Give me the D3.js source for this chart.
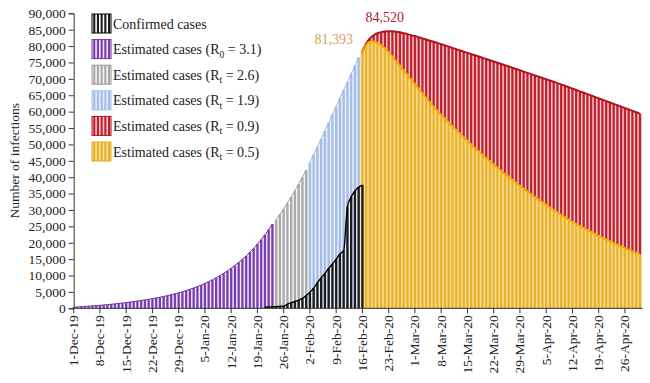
<!DOCTYPE html>
<html><head><meta charset="utf-8">
<script src="https://cdn.jsdelivr.net/npm/d3@7"></script>
<style>
body{margin:0;background:#fff}
svg{display:block}
text{font-family:"Liberation Serif","Times New Roman",serif;fill:#222}
</style>
</head><body>
<svg id="c" width="650" height="383"></svg>
<script>
// ---- data (day index 0 = 1-Dec-2019, 152 days to 30-Apr-2020) ----
const dayCount = 152;
const tickLabels = ["1-Dec-19","8-Dec-19","15-Dec-19","22-Dec-19","29-Dec-19","5-Jan-20","12-Jan-20","19-Jan-20","26-Jan-20","2-Feb-20","9-Feb-20","16-Feb-20","23-Feb-20","1-Mar-20","8-Mar-20","15-Mar-20","22-Mar-20","29-Mar-20","5-Apr-20","12-Apr-20","19-Apr-20","26-Apr-20"];
const yTicks = [0,5000,10000,15000,20000,25000,30000,35000,40000,45000,50000,55000,60000,65000,70000,75000,80000,85000,90000];

// Estimated cases R0 = 3.1, starting day 0
const startR31 = 0;
const valuesR31 = [300,400,480,560,650,740,830,920,1020,1120,1230,1350,1480,1610,1750,1900,2050,2210,2380,2560,2750,2950,3160,3380,3620,3870,4140,4430,4740,5070,5420,5800,6210,6640,7100,7600,8130,8700,9310,9960,10660,11410,12210,13060,13970,14950,16000,17120,18320,19600,20970,22440,24010,25690];
// Estimated cases Rt = 2.6
const startR26 = 54;
const valuesR26 = [27000,28700,30400,32200,34000,35900,37900,40000,42200];
// Estimated cases Rt = 1.9
const startR19 = 63;
const valuesR19 = [44500,46900,49300,51700,54100,56600,59100,61600,64100,66600,69100,71600,74100,76600];
// Estimated cases Rt = 0.9
const startR09 = 77;
const valuesR09 = [78500,80800,82300,83300,83900,84250,84450,84520,84500,84400,84200,83950,83650,83350,83050,82700,82350,82000,81650,81300,80950,80600,80220,79840,79460,79080,78700,78320,77940,77560,77180,76800,76420,76040,75660,75280,74900,74520,74140,73760,73380,73000,72610,72220,71830,71440,71050,70660,70270,69880,69490,69100,68710,68300,67880,67450,67030,66600,66180,65760,65330,64910,64480,64060,63640,63210,62790,62360,61940,61520,61090,60670,60240,59820,59400];
// Estimated cases Rt = 0.5
const startR05 = 77;
const valuesR05 = [78000,80300,81300,81393,81000,80300,79300,78100,76800,75400,74000,72600,71200,69800,68400,67000,65600,64200,62850,61500,60200,59000,57900,56700,55500,54400,53300,52200,51100,50000,48950,47900,46850,45850,44850,43850,42900,41950,41000,40100,39200,38300,37400,36500,35650,34800,33950,33150,32350,31550,30750,30000,29250,28500,27800,27100,26400,25750,25100,24500,23900,23300,22700,22100,21550,21000,20450,19900,19350,18850,18350,17850,17350,16900,16400];
// Confirmed cases
const startConf = 51;
const valuesConf = [300,400,450,500,600,650,1300,1700,2100,2500,3000,3900,4900,6100,7800,9300,10600,12200,13500,15000,16600,17600,31000,34000,35800,37000,37600];

const peakLabels = [{series:"R09", value:84520, text:"84,520"},{series:"R05", value:81393, text:"81,393"}];
const legendNames = ["Confirmed cases","Estimated cases (R","Estimated cases (R","Estimated cases (R","Estimated cases (R","Estimated cases (R"];
const legendSubs = ["","0","t","t","t","t"];
const legendTails = [""," = 3.1)"," = 2.6)"," = 1.9)"," = 0.9)"," = 0.5)"];

// ---- build ----
const toPts = (start, arr) => arr.map((v,k)=>({i:start+k, v}));
const svg = d3.select("#c");
const x = d3.scaleBand().domain(d3.range(dayCount)).range([71.8, 641.8]).paddingInner(0).paddingOuter(0);
const bw = x.bandwidth();
const y = d3.scaleLinear().domain([0,90000]).range([308.3,13.3]);
const y0 = y(0);
const cx = i => x(i) + bw/2;

const styles = {
  R09:{dark:"#c0212f", light:"#f6c8cb", line:"#b3121f", lw:2},
  R05:{dark:"#e7b22f", light:"#fbe08c", line:"#f4a900", lw:2},
  R31:{dark:"#7a3db0", light:"#efe6f7", line:"#7030a0", lw:1},
  R26:{dark:"#a9a9a9", light:"#f3f3f3", line:"#a3a3a3", lw:1},
  R19:{dark:"#a6bde6", light:"#e4ecf8", line:"#9fb7e2", lw:1},
  Conf:{dark:"#1b1b1b", light:null, line:"#000", lw:1.4}
};
const gap = 1.45;

function drawSeries(key, pts){
  const s = styles[key];
  const g = svg.append("g");
  if (s.light) {
    g.append("g").selectAll("rect").data(pts).join("rect")
      .attr("x", d=>x(d.i)).attr("width", bw+0.05)
      .attr("y", d=>y(d.v)).attr("height", d=>y0-y(d.v))
      .attr("fill", s.light);
  }
  g.append("g").selectAll("rect").data(pts).join("rect")
    .attr("x", d=>x(d.i)+gap/2).attr("width", bw-gap)
    .attr("y", d=>y(d.v)).attr("height", d=>y0-y(d.v))
    .attr("fill", s.dark);
  const line = d3.line().x(d=>cx(d.i)).y(d=>y(d.v)).curve(d3.curveMonotoneX);
  g.append("path").datum(pts).attr("d", line).attr("fill","none")
    .attr("stroke", s.line).attr("stroke-width", s.lw).attr("stroke-linejoin","round");
}

const series = {
  R09: toPts(startR09, valuesR09),
  R05: toPts(startR05, valuesR05),
  R31: toPts(startR31, valuesR31),
  R26: toPts(startR26, valuesR26),
  R19: toPts(startR19, valuesR19),
  Conf: toPts(startConf, valuesConf)
};
drawSeries("R09", series.R09);
drawSeries("R05", series.R05);
drawSeries("R31", series.R31);
drawSeries("R26", series.R26);
drawSeries("R19", series.R19);
drawSeries("Conf", series.Conf);

// ---- axes ----
const yAxis = d3.axisLeft(y).tickValues(yTicks).tickFormat(d3.format(",")).tickSize(5).tickPadding(3);
const gy = svg.append("g").attr("transform",`translate(${cx(0)},0)`).call(yAxis);
gy.select(".domain").attr("stroke","#333");
gy.selectAll(".tick line").attr("stroke","#333");
gy.selectAll("text").style("font-size","13.5px").attr("fill","#222");

const xAxis = d3.axisBottom(x).tickValues(d3.range(0,dayCount,7)).tickFormat(i=>tickLabels[i/7]).tickSize(5).tickSizeOuter(0);
const gx = svg.append("g").attr("transform",`translate(0,${y0})`).call(xAxis);
gx.select(".domain").remove();
gx.append("line").attr("x1",cx(0)).attr("x2",x(dayCount-1)+bw+0.9).attr("y1",0).attr("y2",0).attr("stroke","#333");
gx.selectAll(".tick line").attr("stroke","#333");
gx.selectAll("text").style("font-size","13.5px").attr("fill","#222")
  .attr("transform","rotate(-90)").attr("text-anchor","end")
  .attr("x",-7).attr("y",0).attr("dy","0.33em");

svg.append("text").attr("transform",`translate(19,${(y(0)+y(90000))/2}) rotate(-90)`)
  .attr("text-anchor","middle").style("font-size","13.5px").text("Number of infections");

// ---- peak labels ----
const peakInfo = {
  R09: {color:"#a3242c", dx:-4, dy:-9},
  R05: {color:"#d6a060", dx:-40, dy:2}
};
peakLabels.forEach(p=>{
  const pt = series[p.series].find(d=>d.v===p.value);
  const info = peakInfo[p.series];
  svg.append("text").attr("x", cx(pt.i)+info.dx).attr("y", y(pt.v)+info.dy)
    .attr("text-anchor","middle").style("font-size","14px").style("fill",info.color).text(p.text);
});

// ---- legend ----
const legKeys = ["Conf","R31","R26","R19","R09","R05"];
const swBorder = {Conf:"#000",R31:"#7030a0",R26:"#9a9a9a",R19:"#a6bde6",R09:"#b3121f",R05:"#e3a820"};
const lg = svg.append("g");
legKeys.forEach((k,j)=>{
  const cy = 23.5 + j*25.6;
  const gg = lg.append("g").attr("transform",`translate(92,${cy-9.5})`);
  const s = styles[k];
  gg.append("rect").attr("width",19).attr("height",19).attr("fill", s.light || "#fff");
  d3.range(5).forEach(m=>{
    gg.append("rect").attr("x",1.2+m*3.7).attr("y",0).attr("width",2.1).attr("height",19).attr("fill",s.dark);
  });
  gg.append("rect").attr("width",19).attr("height",19).attr("fill","none").attr("stroke",swBorder[k]).attr("stroke-width",1);
  const t = lg.append("text").attr("x",113).attr("y",cy+5).style("font-size","14px");
  t.append("tspan").text(legendNames[j]);
  if (legendSubs[j]) {
    t.append("tspan").attr("dy",3.5).style("font-size","9.5px").text(legendSubs[j]);
    t.append("tspan").attr("dy",-3.5).text(legendTails[j]);
  }
});
</script>
</body></html>
